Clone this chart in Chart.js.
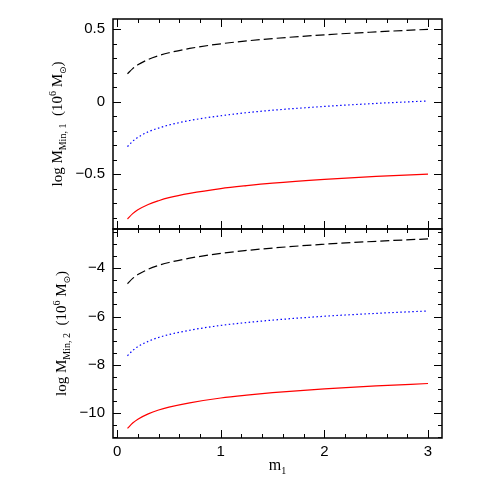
<!DOCTYPE html>
<html>
<head>
<meta charset="utf-8">
<script src="https://cdn.jsdelivr.net/npm/chart.js@4.4.0/dist/chart.umd.min.js"></script>
<style>
  html, body { margin: 0; padding: 0; background: #fff; }
  #wrap { position: relative; width: 491px; height: 491px; }
  canvas { position: absolute; left: 0; }
</style>
</head>
<body>
<div id="wrap">
  <canvas id="panelArriba" width="491" height="235" style="top:0px"></canvas>
  <canvas id="panelAbajo" width="491" height="268" style="top:223px"></canvas>
</div>
<script>
// valores de m1 (eje x)
var masas = [0.1, 0.15, 0.2, 0.3, 0.4, 0.5, 0.7, 1.0, 1.25, 1.5, 2.0, 2.5, 3.0];

// panel superior: log M_Min,1
var min1Negra = [0.193, 0.229, 0.255, 0.292, 0.318, 0.338, 0.368, 0.400, 0.420, 0.436, 0.462, 0.482, 0.500];
var min1Azul  = [-0.309, -0.272, -0.245, -0.207, -0.181, -0.160, -0.129, -0.096, -0.075, -0.058, -0.032, -0.011, 0.006];
var min1Roja  = [-0.808, -0.771, -0.745, -0.708, -0.682, -0.661, -0.631, -0.598, -0.578, -0.561, -0.535, -0.514, -0.498];

// panel inferior: log M_Min,2
var min2Negra = [-4.64, -4.42, -4.26, -4.04, -3.88, -3.76, -3.58, -3.38, -3.26, -3.16, -3.00, -2.88, -2.78];
var min2Azul  = [-7.63, -7.41, -7.25, -7.03, -6.87, -6.75, -6.57, -6.37, -6.25, -6.15, -5.99, -5.87, -5.77];
var min2Roja  = [-10.64, -10.42, -10.26, -10.04, -9.88, -9.76, -9.58, -9.38, -9.26, -9.16, -9.00, -8.88, -8.78];

// etiquetas de los ejes
var ticksX = [0, 1, 2, 3];
var ticksArriba = [0.5, 0, -0.5];
var ticksAbajo = [-4, -6, -8, -10];

function puntos(ys) {
  return masas.map(function (m, i) { return { x: m, y: ys[i] }; });
}

function serie(ys, color, guion) {
  return {
    data: puntos(ys),
    borderColor: color,
    borderWidth: 1.2,
    borderDash: guion,
    pointRadius: 0,
    showLine: true,
    fill: false,
    cubicInterpolationMode: 'monotone'
  };
}

function conMenos(v) {
  return String(v).replace('-', '\u2212');
}

// texto con subindices / superindices
function textoCompuesto(ctx, partes, x0) {
  var total = 0;
  partes.forEach(function (p) {
    ctx.font = p.fuente;
    p.ancho = ctx.measureText(p.texto).width;
    total += p.ancho;
  });
  var x = x0 - total / 2;
  ctx.textAlign = 'left';
  ctx.textBaseline = 'alphabetic';
  partes.forEach(function (p) {
    ctx.font = p.fuente;
    ctx.fillText(p.texto, x, p.dy);
    x += p.ancho;
  });
}

function tituloY(sub) {
  var g = '15px "Liberation Serif", serif', c = '10px "Liberation Serif", serif';
  return [
    { texto: 'log M', fuente: g, dy: 0 },
    { texto: sub, fuente: c, dy: 4 },
    { texto: '  (10', fuente: g, dy: 0 },
    { texto: '6', fuente: c, dy: -6 },
    { texto: ' M', fuente: g, dy: 0 },
    { texto: '\u2299', fuente: '9px "DejaVu Sans", sans-serif', dy: 4 },
    { texto: ')', fuente: g, dy: 0 }
  ];
}

// marco y ticks hacia dentro en los cuatro lados
var marcoPlugin = {
  id: 'marco',
  afterDraw: function (chart, args, opts) {
    var ctx = chart.ctx, a = chart.chartArea;
    var sx = chart.scales.x, sy = chart.scales.y;
    ctx.save();
    ctx.strokeStyle = '#000';
    ctx.lineWidth = 1;
    ctx.beginPath();
    var i, v, p, largo;
    for (i = Math.ceil(sx.min / 0.2); i <= Math.floor(sx.max / 0.2); i++) {
      v = i * 0.2;
      p = Math.round(sx.getPixelForValue(v)) + 0.5;
      largo = (i % 5 === 0) ? 8 : 4;
      ctx.moveTo(p, a.bottom); ctx.lineTo(p, a.bottom - largo);
      ctx.moveTo(p, a.top); ctx.lineTo(p, a.top + largo);
    }
    var paso = opts.menor, cada = Math.round(opts.mayor / opts.menor);
    for (i = Math.ceil(sy.min / paso); i <= Math.floor(sy.max / paso); i++) {
      v = i * paso;
      p = Math.round(sy.getPixelForValue(v)) + 0.5;
      largo = (i % cada === 0) ? 8 : 4;
      ctx.moveTo(a.left, p); ctx.lineTo(a.left + largo, p);
      ctx.moveTo(a.right, p); ctx.lineTo(a.right - largo, p);
    }
    ctx.stroke();
    ctx.lineWidth = 1.5;
    ctx.strokeRect(a.left, a.top, a.right - a.left, a.bottom - a.top);

    // titulo del eje y
    ctx.fillStyle = '#000';
    ctx.save();
    ctx.translate(opts.tituloX, (a.top + a.bottom) / 2);
    ctx.rotate(-Math.PI / 2);
    textoCompuesto(ctx, tituloY(opts.sub), 0);
    ctx.restore();

    // titulo del eje x (solo abajo)
    if (opts.ejeX) {
      ctx.save();
      ctx.translate((a.left + a.right) / 2, opts.ejeXy);
      textoCompuesto(ctx, [
        { texto: 'm', fuente: '16px "Liberation Serif", serif', dy: 0 },
        { texto: '1', fuente: '10px "Liberation Serif", serif', dy: 4 }
      ], 0);
      ctx.restore();
    }
    ctx.restore();
  }
};

var fuenteTicks = { family: '"Liberation Sans", Arial, sans-serif', size: 15 };

function opciones(yMin, yMax, ticksY, conX, padTop, padBottom) {
  return {
    responsive: false,
    animation: false,
    devicePixelRatio: 1,
    layout: { padding: { left: 0, right: 49, top: padTop, bottom: padBottom } },
    plugins: { legend: { display: false }, tooltip: { enabled: false } },
    scales: {
      x: {
        type: 'linear',
        min: -0.04,
        max: 3.135,
        display: conX,
        grid: { display: false, drawTicks: false },
        border: { display: false },
        afterBuildTicks: function (scale) {
          scale.ticks = ticksX.map(function (v) { return { value: v }; });
        },
        afterFit: function (scale) {
          scale.height = conX ? 53 : 0;
          scale.paddingLeft = 0;
          scale.paddingRight = 0;
        },
        ticks: { color: '#000', font: fuenteTicks, padding: 5, maxRotation: 0, autoSkip: false,
                 callback: function (v) { return conMenos(v); } }
      },
      y: {
        type: 'linear',
        min: yMin,
        max: yMax,
        grid: { display: false, drawTicks: false },
        border: { display: false },
        afterBuildTicks: function (scale) {
          scale.ticks = ticksY.map(function (v) { return { value: v }; });
        },
        afterFit: function (scale) {
          scale.width = 113;
          scale.paddingTop = 0;
          scale.paddingBottom = 0;
        },
        ticks: { color: '#000', font: fuenteTicks, padding: 8, autoSkip: false,
                 callback: function (v) { return conMenos(v); } }
      }
    }
  };
}

// panel de arriba
var optArriba = opciones(-0.877, 0.571, ticksArriba, false, 19, 6);
optArriba.plugins.marco = { menor: 0.1, mayor: 0.5, sub: 'Min, 1', tituloX: 61.5 };
new Chart(document.getElementById('panelArriba').getContext('2d'), {
  type: 'scatter',
  data: {
    datasets: [
      serie(min1Negra, '#000000', [9, 4]),
      serie(min1Azul, '#0000ff', [1.5, 2.5]),
      serie(min1Roja, '#ff0000', [])
    ]
  },
  options: optArriba,
  plugins: [marcoPlugin]
});

// panel de abajo
var optAbajo = opciones(-11.04, -2.37, ticksAbajo, true, 6, 0);
optAbajo.plugins.marco = { menor: 0.5, mayor: 2, sub: 'Min, 2', tituloX: 66, ejeX: true, ejeXy: 247 };
new Chart(document.getElementById('panelAbajo').getContext('2d'), {
  type: 'scatter',
  data: {
    datasets: [
      serie(min2Negra, '#000000', [9, 4]),
      serie(min2Azul, '#0000ff', [1.5, 2.5]),
      serie(min2Roja, '#ff0000', [])
    ]
  },
  options: optAbajo,
  plugins: [marcoPlugin]
});
</script>
</body>
</html>
